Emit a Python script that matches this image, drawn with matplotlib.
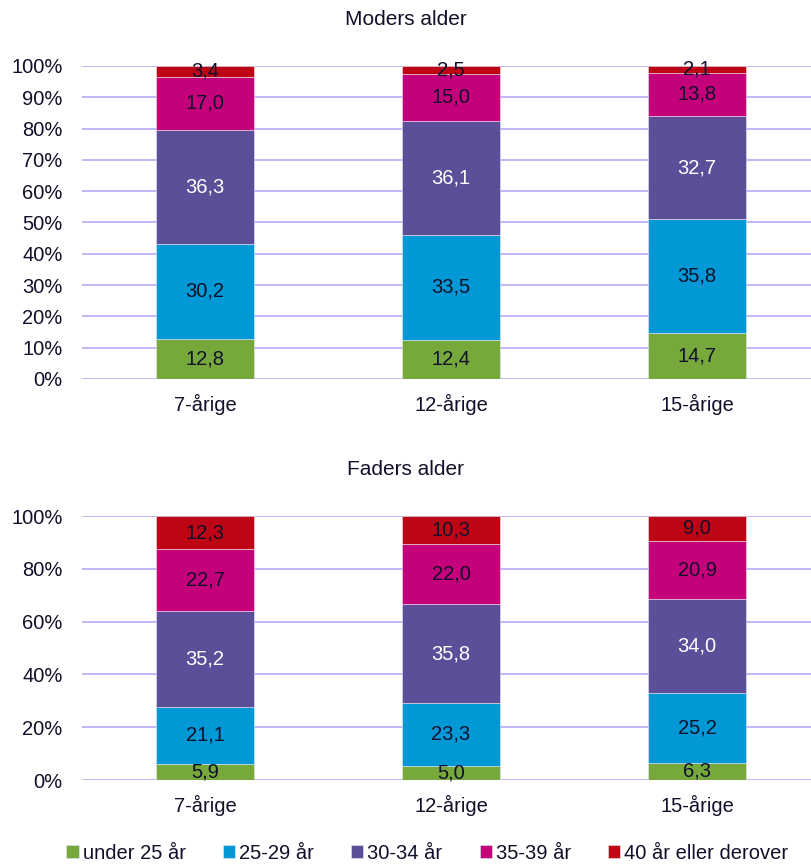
import matplotlib.pyplot as plt
import numpy as np

plt.rcParams['font.family'] = ['Liberation Sans', 'DejaVu Sans']

groups = ['7-årige', '12-årige', '15-årige']
age_bands = ['under 25 år', '25-29 år', '30-34 år', '35-39 år', '40 år eller derover']
colors = ['#76A83C', '#0099D5', '#5B4F99', '#C4007B', '#BE0515']
label_colors = ['#10102A', '#10102A', 'white', '#10102A', '#10102A']

# share (%) per age band, one row per group
mother = np.array([
    [12.8, 30.2, 36.3, 17.0, 3.4],
    [12.4, 33.5, 36.1, 15.0, 2.5],
    [14.7, 35.8, 32.7, 13.8, 2.1],
])
father = np.array([
    [5.9, 21.1, 35.2, 22.7, 12.3],
    [5.0, 23.3, 35.8, 22.0, 10.3],
    [6.3, 25.2, 34.0, 20.9, 9.0],
])

text_col = '#10102A'
grid_col = '#B9B3F7'
fs = 14.5

fig = plt.figure(figsize=(8.11, 8.67), dpi=100)
ax_m = fig.add_axes([0.1011, 0.5629, 0.8989, 0.3610])
ax_f = fig.add_axes([0.1011, 0.1003, 0.8989, 0.3045])


def stacked(ax, values, yticks):
    x = np.arange(len(groups))
    shares = values / values.sum(axis=1, keepdims=True) * 100
    bottom = np.zeros(len(groups))
    bars = []
    for k in range(len(age_bands)):
        b = ax.bar(x, shares[:, k], 0.395, bottom=bottom, color=colors[k],
                   edgecolor='#E8E8F0', linewidth=0.4, label=age_bands[k], zorder=2)
        for i in range(len(groups)):
            ax.text(x[i], bottom[i] + shares[i, k] / 2,
                    f'{values[i, k]:.1f}'.replace('.', ','),
                    ha='center', va='center', fontsize=fs,
                    color=label_colors[k], zorder=3)
        bottom += shares[:, k]
        bars.append(b)
    ax.set_xlim(-0.5, 2.463)
    ax.set_ylim(0, 100)
    ax.set_yticks(yticks)
    ax.set_yticklabels([f'{t}%' for t in yticks])
    ax.set_xticks(x)
    ax.set_xticklabels(groups)
    ax.yaxis.grid(True, color=grid_col, linewidth=1.3, zorder=0)
    ax.set_axisbelow(True)
    for s in ax.spines.values():
        s.set_visible(False)
    ax.tick_params(axis='both', length=0, labelsize=fs, colors=text_col)
    ax.tick_params(axis='y', pad=14)
    ax.tick_params(axis='x', pad=11)
    return bars


bars = stacked(ax_m, mother, list(range(0, 101, 10)))
stacked(ax_f, father, list(range(0, 101, 20)))

fig.text(0.5, 0.977, 'Moders alder', ha='center', va='center', fontsize=15, color=text_col)
fig.text(0.5, 0.459, 'Faders alder', ha='center', va='center', fontsize=15, color=text_col)

fig.legend(handles=bars, labels=age_bands, loc='center', bbox_to_anchor=(0.527, 0.016),
           ncol=5, frameon=False, fontsize=fs, handlelength=0.6, handleheight=0.6,
           handletextpad=0.2, columnspacing=1.85, labelcolor=text_col)

fig.savefig('out.png', dpi=100)
